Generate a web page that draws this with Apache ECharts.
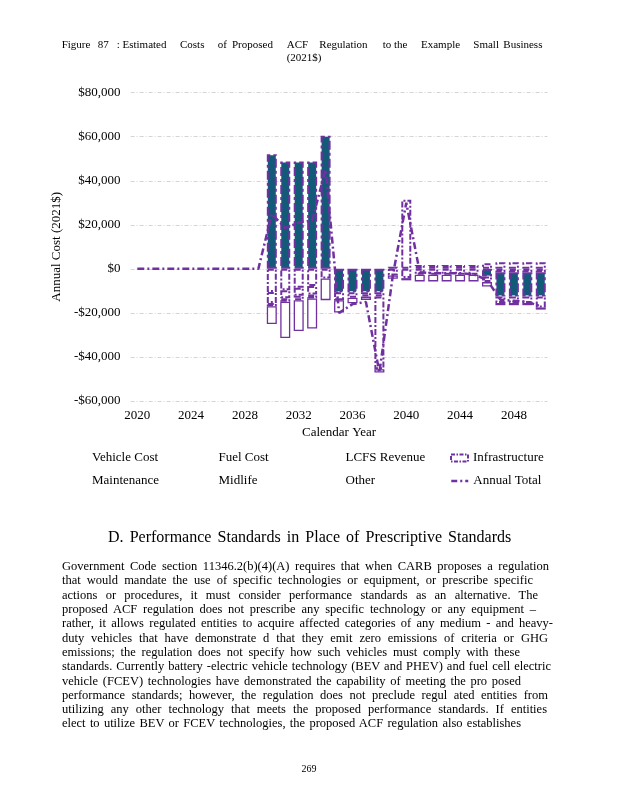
<!DOCTYPE html>
<html>
<head>
<meta charset="utf-8">
<script src="https://cdn.jsdelivr.net/npm/echarts@6/dist/echarts.min.js"></script>
<style>
html,body{margin:0;padding:0;background:#fff;}
#wrap{position:relative;width:618px;height:800px;overflow:hidden;font-family:'Liberation Serif','Times New Roman',serif;color:#000;}
#chart{position:absolute;left:0;top:0;width:618px;height:800px;}
.t{position:absolute;white-space:nowrap;pointer-events:none;}
</style>
</head>
<body>
<div id="wrap">
<div id="chart"></div>
</div>
<script>
// ---- data ----
const years = ['2020','2021','2022','2023','2024','2025','2026','2027','2028','2029',
  '2030','2031','2032','2033','2034','2035','2036','2037','2038','2039',
  '2040','2041','2042','2043','2044','2045','2046','2047','2048','2049','2050'];
const yTicks = [-60000,-40000,-20000,0,20000,40000,60000,80000];
const maintenance = [0,0,0,0,0,0,0,0,0,0,
  -10500,-9700,-8600,-7800,-4400,0,0,0,0,-3000,
  -4200,-2700,-2700,-2700,-2700,-2700,0,-1500,-1500,-1500,-1500];
const vehicleCost = [0,0,0,0,0,0,0,0,0,0,
  52000,48800,48800,48800,60500,-10600,-10600,-10600,-10600,0,
  0,0,0,0,0,0,-3500,-11000,-11000,-11000,-11000];
const fuelCost = [0,0,0,0,0,0,0,0,0,0,
  -5000,-3600,-3600,-3800,0,-3600,-2500,-2000,-2000,0,
  0,0,0,0,0,0,-2500,-3000,-3000,-3000,-5000];
const lcfsRevenue = [0,0,0,0,0,0,0,0,0,0,
  -1500,-1600,-2000,-1800,0,0,0,0,0,0,
  0,0,0,0,0,0,0,0,0,0,0];
const infrastructure = [0,0,0,0,0,0,0,0,0,0,
  0,0,0,0,0,0,0,0,0,1000,
  0,1800,1800,1800,1800,1800,2500,3000,3000,3000,3000];
const midlife = [0,0,0,0,0,0,0,0,0,0,
  0,0,0,0,0,0,0,0,-33000,0,
  31400,0,0,0,0,0,0,0,0,0,0];
const other = [0,0,0,0,0,0,0,0,0,0,
  -8000,-16500,-14000,-13700,-9800,-5600,-2500,-1500,-1500,-1500,
  -1000,-3000,-3000,-3000,-3000,-3000,-2000,-1000,-1000,-1000,-1000];
const annualTotal = [0,0,0,0,0,0,0,0,0,0,
  25000,18500,21000,22000,45000,-20000,-16000,-15000,-47000,-3000,
  30000,-1500,-2000,-2000,-2000,-2500,-5000,-14000,-14500,-15000,-17000];

// ---- styles ----
const PURPLE = '#7030a0';
const TEAL = '#135a78';
const dashedStyle = {color:'#ffffff', borderColor:PURPLE, borderWidth:2, borderType:[6,2,2,2]};
const tealStyle = {color:TEAL, borderColor:PURPLE, borderWidth:2, borderType:[9,3,3,3]};
const solidStyle = {color:'#ffffff', borderColor:PURPLE, borderWidth:1.3, borderType:'solid'};
const nz = arr => arr.map(v => v === 0 ? null : v);

function bar(name, data, style){
  return {name, type:'bar', stack:'total', barWidth:10, data:nz(data), itemStyle:style, emphasis:{disabled:true}, z:2};
}

const fmt = v => (v < 0 ? '-' : '') + '$' + Math.abs(v).toLocaleString('en-US');
const FONT = "'Liberation Serif','Times New Roman',serif";

function leg(name, left, top, kind){
  const l = {
    data:[name], left:left, top:top, orient:'horizontal', padding:0,
    itemWidth: kind ? 17 : 1, itemHeight: 7, itemGap: 0,
    selectedMode:false,
    textStyle:{fontFamily:FONT, fontSize:13, color:'#000'}
  };
  if(!kind){ l.itemStyle = {opacity:0}; l.icon = 'rect'; }
  if(kind === 'box'){
    l.icon = 'rect';
    l.itemStyle = {color:'#ffffff', borderColor:PURPLE, borderWidth:2, borderType:[4,1.5,1.5,1.5]};
  }
  if(kind === 'line'){
    l.itemStyle = {opacity:0};
    l.lineStyle = {color:PURPLE, width:2.5, type:[6,3,2,3]};
  }
  return l;
}

const chart = echarts.init(document.getElementById('chart'), null, {renderer:'canvas'});
chart.setOption({
  animation:false,
  backgroundColor:'#ffffff',
  grid:{left:130.6, right:70.5, top:92.7, bottom:399, containLabel:false},
  xAxis:{
    type:'category', data:years, boundaryGap:true,
    axisLine:{show:false}, axisTick:{show:false},
    axisLabel:{interval:3, margin:8, fontFamily:FONT, fontSize:13, color:'#000'},
    name:'Calendar Year', nameLocation:'middle', nameGap:25,
    nameTextStyle:{fontFamily:FONT, fontSize:13, color:'#000'}
  },
  yAxis:{
    type:'value', min:yTicks[0], max:yTicks[yTicks.length-1], interval:20000,
    axisLine:{show:false}, axisTick:{show:false},
    axisLabel:{formatter:fmt, margin:10, fontFamily:FONT, fontSize:13, color:'#000'},
    splitLine:{show:true, lineStyle:{color:'#d4d4d4', width:1, type:[4,2,1,2]}},
    name:'Annual Cost (2021$)', nameLocation:'middle', nameGap:52,
    nameTextStyle:{fontFamily:FONT, fontSize:13, color:'#000'}
  },
  legend:[
    leg('Vehicle Cost', 85, 451.5),
    leg('Fuel Cost', 211.5, 451.5),
    leg('LCFS Revenue', 338.5, 451.5),
    leg('Infrastructure', 450, 451.5, 'box'),
    leg('Maintenance', 85, 474.5),
    leg('Midlife', 211.5, 474.5),
    leg('Other', 338.5, 474.5),
    leg('Annual Total', 450, 474.5, 'line')
  ],
  series:[
    bar('Maintenance', maintenance, dashedStyle),
    bar('Vehicle Cost', vehicleCost, tealStyle),
    bar('Fuel Cost', fuelCost, dashedStyle),
    bar('LCFS Revenue', lcfsRevenue, dashedStyle),
    bar('Infrastructure', infrastructure, dashedStyle),
    bar('Midlife', midlife, dashedStyle),
    bar('Other', other, solidStyle),
    {name:'Annual Total', type:'line', data:annualTotal, symbol:'none', z:10,
     lineStyle:{color:PURPLE, width:2.5, type:[7,3,2,3]}, itemStyle:{color:PURPLE},
     emphasis:{disabled:true}}
  ]
});

// ---- page text ----
const wrap = document.getElementById('wrap');
function addText(txt, x, yc, size){
  const d = document.createElement('div');
  d.className = 't';
  d.textContent = txt;
  d.style.left = x + 'px';
  d.style.fontSize = size + 'px';
  d.style.lineHeight = (size + 4) + 'px';
  d.style.top = (yc - (size + 4) / 2) + 'px';
  wrap.appendChild(d);
  return d;
}
const titleWords = [['Figure',61.7],['87',97.7],[': Estimated',116.7],['Costs',180],['of',217.7],['Proposed',232],
  ['ACF',286.7],['Regulation',319.3],['to the',382.7],['Example',421],['Small',473.3],['Business',503.3]];
titleWords.forEach(w => addText(w[0], w[1], 44.3, 11));
addText('(2021$)', 286.7, 57, 11);

function justified(txt, x0, x1, yc, size){
  const d = addText(txt, x0, yc, size);
  const w = d.getBoundingClientRect().width;
  const spaces = (txt.match(/ /g) || []).length;
  if(spaces > 0){
    d.style.wordSpacing = ((x1 - x0 - w) / spaces) + 'px';
  }
}
justified('D.   Performance   Standards   in   Place   of   Prescriptive   Standards', 108, 541, 537, 16);

const para = [
  ['Government Code section 11346.2(b)(4)(A) requires that when CARB proposes a regulation', 549, 566],
  ['that would mandate the use of specific technologies or equipment, or prescribe specific', 533, 580.5],
  ['actions or procedures, it must consider performance standards as an alternative. The', 538, 595],
  ['proposed ACF regulation does not prescribe any specific technology or any equipment –', 536, 609.3],
  ['rather, it allows regulated entities to acquire affected categories of any medium - and heavy-', 553, 623.6],
  ['duty vehicles that have demonstrate d that they emit zero emissions of criteria or GHG', 548, 638],
  ['emissions; the regulation does not specify how such vehicles must comply with these', 520, 652.2],
  ['standards. Currently battery -electric vehicle technology (BEV and PHEV) and fuel cell electric', 551, 666.5],
  ['vehicle (FCEV) technologies have demonstrated the capability of meeting the pro posed', 521, 680.8],
  ['performance standards; however, the regulation does not preclude regul ated entities from', 548, 695],
  ['utilizing any other technology that meets the proposed performance standards. If entities', 547, 709.4],
  ['elect to utilize BEV or FCEV technologies, the proposed ACF regulation also establishes', 521, 723.7]
];
para.forEach(p => justified(p[0], 62, p[1], p[2], 12.5));
addText('269', 301.5, 769, 10);
</script>
</body>
</html>
